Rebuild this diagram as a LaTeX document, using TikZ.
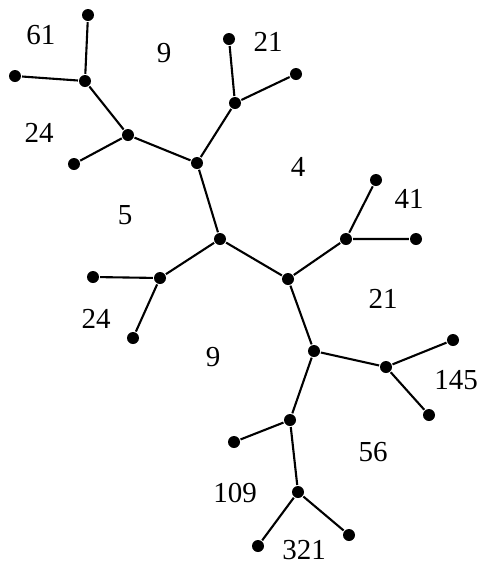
\documentclass[tikz,border=0pt]{standalone}
\usepackage{fontspec}
\setmainfont{Liberation Serif}

\tikzset{
	dot/.style = {circle, fill = black, inner sep = 0pt, minimum size = 12pt},
	num/.style = {font = \fontsize{29}{29}\selectfont, inner sep = 0pt}
}

\begin{document}
\begin{tikzpicture}[x = 1pt, y = -1pt, line width = 2.1pt]
	\useasboundingbox (0,0) rectangle (482,566);
	% inner vertices
	\node[dot] (N1) at (85,81) {};
	\node[dot] (N2) at (128,135) {};
	\node[dot] (N3) at (197,163) {};
	\node[dot] (N4) at (235,103) {};
	\node[dot] (N5) at (220,239) {};
	\node[dot] (N6) at (160,278) {};
	\node[dot] (N7) at (288,279) {};
	\node[dot] (N8) at (346,239) {};
	\node[dot] (N9) at (314,351) {};
	\node[dot] (N10) at (386,367) {};
	\node[dot] (N11) at (290,420) {};
	\node[dot] (N12) at (298,492) {};
	% leaves
	\node[dot] (L1) at (88,15) {};
	\node[dot] (L2) at (15,76) {};
	\node[dot] (L3) at (74,164) {};
	\node[dot] (L4) at (229,39) {};
	\node[dot] (L5) at (296,74) {};
	\node[dot] (L6) at (93,277) {};
	\node[dot] (L7) at (133,338) {};
	\node[dot] (L8) at (376,180) {};
	\node[dot] (L9) at (416,239) {};
	\node[dot] (L10) at (453,340) {};
	\node[dot] (L11) at (429,415) {};
	\node[dot] (L12) at (234,442) {};
	\node[dot] (L13) at (258,546) {};
	\node[dot] (L14) at (349,535) {};
	
	\draw (L1) -- (N1) -- (L2) (N1) -- (N2) -- (L3) (N2) -- (N3) -- (N4) -- (L4) (N4) -- (L5);
	\draw (N3) -- (N5) -- (N6) -- (L6) (N6) -- (L7);
	\draw (N5) -- (N7) -- (N8) -- (L8) (N8) -- (L9);
	\draw (N7) -- (N9) -- (N10) -- (L10) (N10) -- (L11);
	\draw (N9) -- (N11) -- (L12) (N11) -- (N12) -- (L13) (N12) -- (L14);
	
	% face labels
	\node[num] (F1) at (41,35) {61};
	\node[num] (F2) at (164,53) {9};
	\node[num] (F3) at (268,42) {21};
	\node[num] (F4) at (39,133) {24};
	\node[num] (F5) at (298,167) {4};
	\node[num] (F6) at (409,199) {41};
	\node[num] (F7) at (125,215) {5};
	\node[num] (F8) at (383,299) {21};
	\node[num] (F9) at (96,319) {24};
	\node[num] (F10) at (213,357) {9};
	\node[num] (F11) at (456,380) {145};
	\node[num] (F12) at (373,452) {56};
	\node[num] (F13) at (235,493) {109};
	\node[num] (F14) at (304,550) {321};
\end{tikzpicture}
\end{document}
